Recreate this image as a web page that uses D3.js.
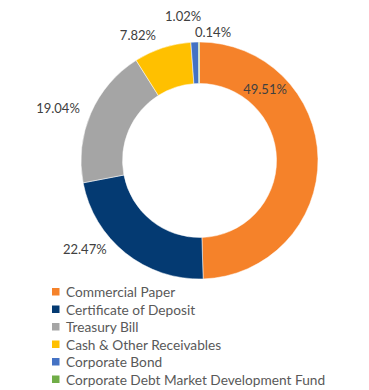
<!DOCTYPE html>
<html>
<head>
<meta charset="utf-8">
<script src="https://cdn.jsdelivr.net/npm/d3@7"></script>
<style>
  body { margin: 0; background: #fff; }
  svg { display: block; font-family: Lato, "Open Sans", sans-serif; }
</style>
</head>
<body>
<div id="chart"></div>
<script>
// portfolio allocation (%)
const categories = ["Commercial Paper", "Certificate of Deposit", "Treasury Bill",
    "Cash & Other Receivables", "Corporate Bond", "Corporate Debt Market Development Fund"];
const shares = [49.51, 22.47, 19.04, 7.82, 1.02, 0.14];
const colors = ["#F5822A", "#043A72", "#A5A5A5", "#FFC000", "#4472C4", "#70AD47"];
// where each data label sits: angle (deg, clockwise from top) and distance from centre
const labelAngle = [42.5, 232.3, 290.4, 333.9, 353.5, 6];
const labelRadius = [97, 145, 151, 140, 145, 129];

const width = 369, height = 390;
const cx = 199.5, cy = 160.5,
    outerRadius = 118.5, innerRadius = 77;

const svg = d3.select("#chart").append("svg")
    .attr("width", width)
    .attr("height", height);

const g = svg.append("g")
    .attr("transform", "translate(" + cx + "," + cy + ")");

const pie = d3.pie().sort(null).value(d => d);
const arc = d3.arc().innerRadius(innerRadius).outerRadius(outerRadius);

g.selectAll("path")
    .data(pie(shares))
    .enter()
    .append("path")
    .attr("d", arc)
    .attr("fill", (d, i) => colors[i])
    .attr("stroke", "#fff")
    .attr("stroke-width", 0.5);

const rad = d => d * Math.PI / 180;

g.selectAll("text.lbl")
    .data(shares)
    .enter()
    .append("text")
    .attr("class", "lbl")
    .attr("x", (d, i) => Math.sin(rad(labelAngle[i])) * labelRadius[i])
    .attr("y", (d, i) => -Math.cos(rad(labelAngle[i])) * labelRadius[i])
    .attr("text-anchor", "middle")
    .attr("dominant-baseline", "central")
    .attr("font-size", 13)
    .attr("fill", "#404040")
    .text(d => d.toFixed(2) + "%");

// legend
const legend = svg.append("g")
    .attr("transform", "translate(52,291.5)");

const rows = legend.selectAll("g")
    .data(categories)
    .enter()
    .append("g")
    .attr("transform", (d, i) => "translate(0," + i * 17.5 + ")");

rows.append("rect")
    .attr("x", 0)
    .attr("y", -3.5)
    .attr("width", 7.5)
    .attr("height", 7.5)
    .attr("fill", (d, i) => colors[i]);

rows.append("text")
    .attr("x", 14)
    .attr("y", 0)
    .attr("dominant-baseline", "central")
    .attr("font-size", 13.7)
    .attr("fill", "#595959")
    .text(d => d);
</script>
</body>
</html>
